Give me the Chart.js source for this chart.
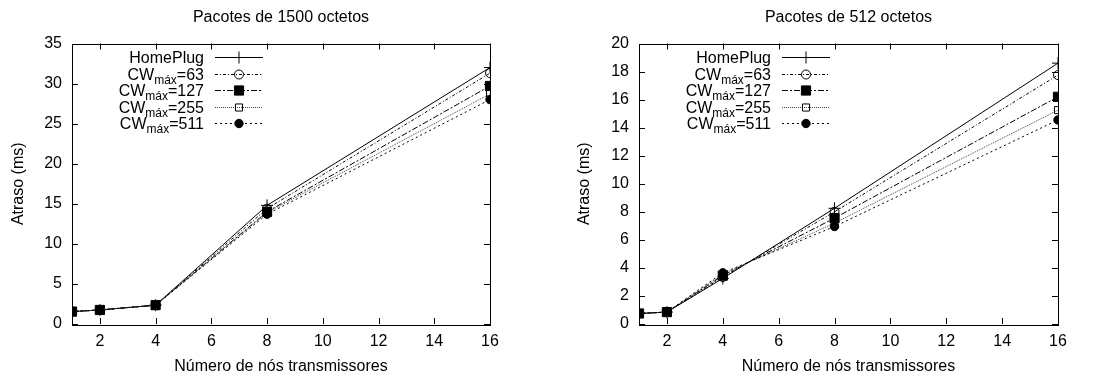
<!DOCTYPE html>
<html>
<head>
<meta charset="utf-8">
<script src="https://cdn.jsdelivr.net/npm/chart.js@4/dist/chart.umd.min.js"></script>
<style>
  html, body { margin: 0; padding: 0; background: #fff; }
  #wrap { position: relative; width: 1099px; height: 376px; }
  #c1 { position: absolute; left: 0; top: 0; }
  #c2 { position: absolute; left: 550px; top: 0; }
</style>
</head>
<body>
<div id="wrap">
  <canvas id="c1" width="550" height="376"></canvas>
  <canvas id="c2" width="549" height="376"></canvas>
</div>
<script>
// numero de nos transmissores
const nodes = [1, 2, 4, 8, 16];
const seriesLabels = ["HomePlug", "CWmáx=63", "CWmáx=127", "CWmáx=255", "CWmáx=511"];

// pacotes de 1500 octetos (atraso em ms)
const homeplug1500 = [1.55, 1.75, 2.35, 14.8, 32.0];
const cw63_1500 = [1.55, 1.75, 2.35, 14.4, 31.3];
const cw127_1500 = [1.55, 1.75, 2.35, 14.0, 29.7];
const cw255_1500 = [1.55, 1.75, 2.35, 13.9, 28.7];
const cw511_1500 = [1.55, 1.75, 2.35, 13.7, 28.0];

// pacotes de 512 octetos (atraso em ms)
const homeplug512 = [0.75, 0.85, 3.25, 8.25, 18.6];
const cw63_512 = [0.75, 0.85, 3.35, 8.0, 17.75];
const cw127_512 = [0.75, 0.85, 3.45, 7.55, 16.2];
const cw255_512 = [0.75, 0.85, 3.55, 7.2, 15.25];
const cw511_512 = [0.75, 0.85, 3.65, 6.95, 14.55];

const styles = [
  { color: "#000", dash: [], point: "cross", radius: 6, fill: "#000" },
  { color: "#000", dash: [3, 2, 1, 2], point: "circle", radius: 4.5, fill: "rgba(0,0,0,0)" },
  { color: "#000", dash: [6, 2, 2, 2], point: "rect", radius: 6.5, fill: "#000" },
  { color: "#444", dash: [1, 1], point: "rect", radius: 5, fill: "rgba(0,0,0,0)" },
  { color: "#000", dash: [2, 3], point: "circle", radius: 4.2, fill: "#000" }
];

const FONT = "'Liberation Sans', Arial, Helvetica, sans-serif";
Chart.defaults.font.family = FONT;
Chart.defaults.font.size = 16;
Chart.defaults.color = "#000";

// borda, marcas internas nos quatro lados, titulo e legenda estilo gnuplot
const gnuframe = {
  id: "gnuframe",
  beforeDatasetsDraw(chart) {
    const { ctx, chartArea: a, scales } = chart;
    ctx.save();
    ctx.strokeStyle = "#000";
    ctx.lineWidth = 1;
    ctx.setLineDash([]);
    ctx.beginPath();
    const tl = 6;
    scales.x.ticks.forEach(t => {
      const px = Math.round(scales.x.getPixelForValue(t.value)) + 0.5;
      ctx.moveTo(px, a.bottom); ctx.lineTo(px, a.bottom - tl);
      ctx.moveTo(px, a.top); ctx.lineTo(px, a.top + tl);
    });
    scales.y.ticks.forEach(t => {
      const py = Math.round(scales.y.getPixelForValue(t.value)) + 0.5;
      ctx.moveTo(a.left, py); ctx.lineTo(a.left + tl, py);
      ctx.moveTo(a.right, py); ctx.lineTo(a.right - tl, py);
    });
    ctx.stroke();
    ctx.strokeRect(Math.round(a.left) + 0.5, Math.round(a.top) + 0.5,
      Math.round(a.right - a.left), Math.round(a.bottom - a.top));
    ctx.restore();
  },
  afterDraw(chart, args, opts) {
    const { ctx, chartArea: a } = chart;
    ctx.save();
    ctx.fillStyle = "#000";
    ctx.textBaseline = "middle";
    ctx.textAlign = "center";
    ctx.font = "16px " + FONT;
    ctx.fillText(opts.title, (a.left + a.right) / 2, 18);

    chart.data.datasets.forEach((ds, i) => {
      const st = styles[i];
      const y = a.top + 13.5 + i * 16.5;
      const textRight = a.left + 132;
      ctx.textAlign = "left";
      ctx.textBaseline = "alphabetic";
      const base = y + 6;
      const parts = ds.label.split("máx");
      if (parts.length === 2) {
        ctx.font = "16px " + FONT;
        const w1 = ctx.measureText(parts[0]).width;
        const w3 = ctx.measureText(parts[1]).width;
        ctx.font = "12px " + FONT;
        const w2 = ctx.measureText("máx").width;
        let x = textRight - w1 - w2 - w3;
        ctx.font = "16px " + FONT;
        ctx.fillText(parts[0], x, base);
        ctx.font = "12px " + FONT;
        ctx.fillText("máx", x + w1, base + 4);
        ctx.font = "16px " + FONT;
        ctx.fillText(parts[1], x + w1 + w2, base);
      } else {
        ctx.font = "16px " + FONT;
        ctx.textAlign = "right";
        ctx.fillText(ds.label, textRight, base);
      }
      ctx.strokeStyle = st.color;
      ctx.lineWidth = 1;
      ctx.setLineDash(st.dash);
      ctx.beginPath();
      ctx.moveTo(a.left + 143, Math.round(y) + 0.5);
      ctx.lineTo(a.left + 191, Math.round(y) + 0.5);
      ctx.stroke();
      ctx.setLineDash([]);
      ctx.strokeStyle = "#000";
      ctx.fillStyle = st.fill;
      Chart.helpers.drawPoint(ctx, { pointStyle: st.point, radius: st.radius, rotation: 0, borderWidth: 1 },
        a.left + 167, Math.round(y) + 0.5);
      ctx.fillStyle = "#000";
    });
    ctx.restore();
  }
};

function makeChart(id, title, series, yMax, yStep, yWidth, padRight, yTitlePad) {
  return new Chart(document.getElementById(id), {
    type: "line",
    data: {
      datasets: series.map((vals, i) => ({
        label: seriesLabels[i],
        data: nodes.map((n, j) => ({ x: n, y: vals[j] })),
        borderColor: styles[i].color,
        borderWidth: 1,
        borderDash: styles[i].dash,
        pointStyle: styles[i].point,
        pointRadius: styles[i].radius,
        pointBackgroundColor: styles[i].fill,
        pointBorderColor: "#000",
        pointBorderWidth: 1,
        tension: 0,
        fill: false,
        order: 5 - i
      }))
    },
    options: {
      responsive: false,
      animation: false,
      events: [],
      layout: { padding: { top: 43.5, right: padRight, bottom: 0, left: 0 } },
      plugins: {
        legend: { display: false },
        tooltip: { enabled: false },
        gnuframe: { title: title }
      },
      scales: {
        x: {
          type: "linear",
          min: 1,
          max: 16,
          grid: { display: false, drawTicks: false },
          border: { display: false },
          ticks: { stepSize: 2, includeBounds: false, padding: 8, maxRotation: 0, autoSkip: false },
          title: { display: true, text: "Número de nós transmissores", padding: { top: 0, bottom: 0 } },
          afterFit: s => { s.height = 52; }
        },
        y: {
          min: 0,
          max: yMax,
          grid: { display: false, drawTicks: false },
          border: { display: false },
          ticks: { stepSize: yStep, padding: 10 },
          title: { display: true, text: "Atraso (ms)", padding: { top: yTitlePad, bottom: 0 } },
          afterFit: s => { s.width = yWidth; }
        }
      }
    },
    plugins: [gnuframe]
  });
}

makeChart("c1", "Pacotes de 1500 octetos",
  [homeplug1500, cw63_1500, cw127_1500, cw255_1500, cw511_1500], 35, 5, 72, 60, 9.4);
makeChart("c2", "Pacotes de 512 octetos",
  [homeplug512, cw63_512, cw127_512, cw255_512, cw511_512], 20, 2, 89, 41, 25.4);
</script>
</body>
</html>
